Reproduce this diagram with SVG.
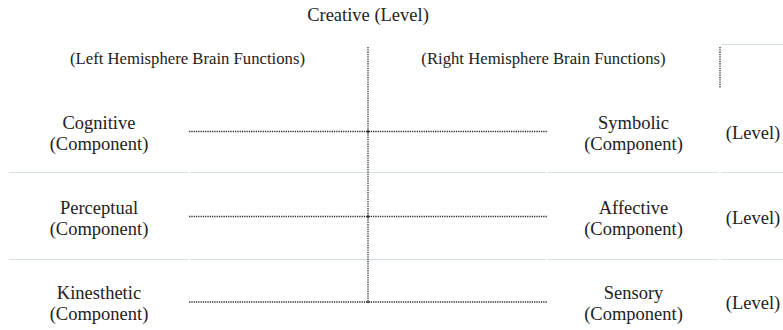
<svg xmlns="http://www.w3.org/2000/svg" width="783" height="330" viewBox="0 0 783 330">
<style>
text{font-family:Liberation Serif,Times New Roman,serif;fill:#222;text-anchor:middle}
.t{font-size:18.5px}
.h{font-size:16.7px}
.rule{stroke:#d5dfe8;stroke-width:1;fill:none}
.dot{stroke:#333;stroke-width:1.3;stroke-dasharray:1.3 1;fill:none}
</style>
<rect width="783" height="330" fill="#fff"/>
<g id="rules">
<line class="rule" x1="9" y1="172.5" x2="188" y2="172.5"/>
<line class="rule" x1="190" y1="172.5" x2="546" y2="172.5"/>
<line class="rule" x1="548" y1="172.5" x2="718.5" y2="172.5"/>
<line class="rule" x1="721" y1="172.5" x2="783" y2="172.5"/>
<line class="rule" x1="9" y1="259.5" x2="188" y2="259.5"/>
<line class="rule" x1="190" y1="259.5" x2="546" y2="259.5"/>
<line class="rule" x1="548" y1="259.5" x2="718.5" y2="259.5"/>
<line class="rule" x1="721" y1="259.5" x2="783" y2="259.5"/>
<line class="rule" x1="722" y1="44.5" x2="783" y2="44.5"/>
</g>
<g id="title"><text class="t" x="368" y="21">Creative (Level)</text></g>
<g id="left-header"><text class="h" x="187.5" y="64">(Left Hemisphere Brain Functions)</text></g>
<g id="right-header"><text class="h" x="543.5" y="64">(Right Hemisphere Brain Functions)</text></g>
<g id="cognitive"><text class="t" x="99" y="129">Cognitive</text><text class="t" x="99" y="150">(Component)</text></g>
<g id="perceptual"><text class="t" x="99" y="214">Perceptual</text><text class="t" x="99" y="235">(Component)</text></g>
<g id="kinesthetic"><text class="t" x="99" y="298.5">Kinesthetic</text><text class="t" x="99" y="319.5">(Component)</text></g>
<g id="symbolic"><text class="t" x="633.5" y="129">Symbolic</text><text class="t" x="633.5" y="150">(Component)</text></g>
<g id="affective"><text class="t" x="633.5" y="214">Affective</text><text class="t" x="633.5" y="235">(Component)</text></g>
<g id="sensory"><text class="t" x="633.5" y="298.5">Sensory</text><text class="t" x="633.5" y="319.5">(Component)</text></g>
<g id="level1"><text class="t" x="753" y="139">(Level)</text></g>
<g id="level2"><text class="t" x="753" y="224">(Level)</text></g>
<g id="level3"><text class="t" x="753" y="309">(Level)</text></g>
<g id="connectors">
<line class="dot" x1="368" y1="47" x2="368" y2="303"/>
<line class="dot" x1="720" y1="47" x2="720" y2="88"/>
<line class="dot" x1="189" y1="131.5" x2="547" y2="131.5"/>
<line class="dot" x1="189" y1="216.5" x2="547" y2="216.5"/>
<line class="dot" x1="189" y1="302" x2="547" y2="302"/>
<path d="M366 131.5h4M368 129.5v4M366 216.5h4M368 214.5v4M366 302h4" stroke="#333" stroke-width="1" fill="none"/>
</g>
</svg>
